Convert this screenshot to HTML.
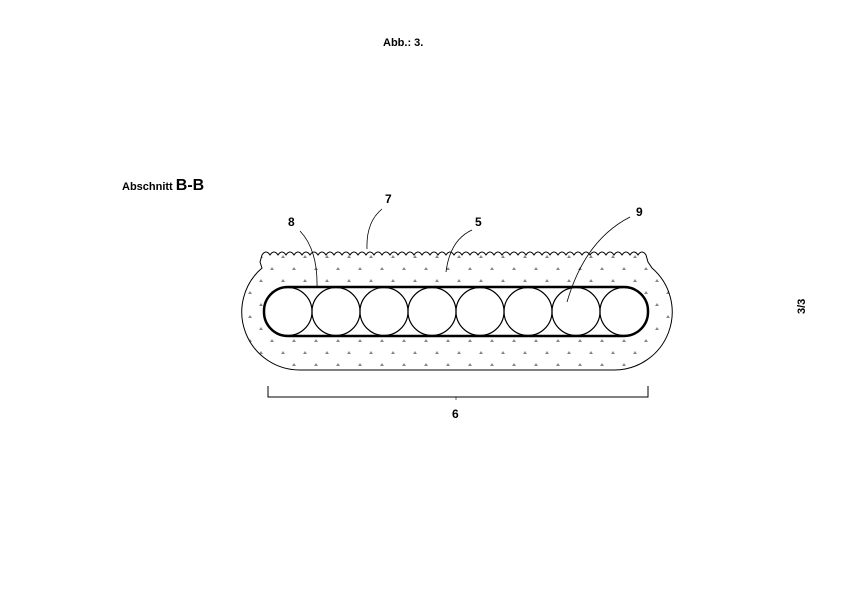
<!DOCTYPE html>
<html><head><meta charset="utf-8"><style>
html,body{margin:0;padding:0;background:#fff;width:842px;height:596px;overflow:hidden}
svg{display:block}
text{font-family:"Liberation Sans",sans-serif;font-weight:bold;fill:#000}
</style></head><body>
<svg width="842" height="596" viewBox="0 0 842 596" xmlns="http://www.w3.org/2000/svg">
<defs>
<pattern id="dots" x="2" y="0" width="22" height="24" patternUnits="userSpaceOnUse">
<path d="M4 6 l2 -3 l2 3z M15 18 l2 -3 l2 3z" fill="#888"/>
</pattern>
</defs>
<text x="383" y="46" font-size="11">Abb.: 3.</text>
<text x="122" y="190" font-size="11">Abschnitt <tspan font-size="16">B-B</tspan></text>
<text x="0" y="0" font-size="11" font-weight="normal" transform="translate(805,314) rotate(-90)">3/3</text>

<path d="M301 370 L614 370 A58 58 0 0 0 652 268 L648 262 L646 255
q-4 -6 -8 0 q-4 -6 -8 0 q-4 -6 -8 0 q-4 -6 -8 0 q-4 -6 -8 0 q-4 -6 -8 0 q-4 -6 -8 0 q-4 -6 -8 0 q-4 -6 -8 0 q-4 -6 -8 0
q-4 -6 -8 0 q-4 -6 -8 0 q-4 -6 -8 0 q-4 -6 -8 0 q-4 -6 -8 0 q-4 -6 -8 0 q-4 -6 -8 0 q-4 -6 -8 0 q-4 -6 -8 0 q-4 -6 -8 0
q-4 -6 -8 0 q-4 -6 -8 0 q-4 -6 -8 0 q-4 -6 -8 0 q-4 -6 -8 0 q-4 -6 -8 0 q-4 -6 -8 0 q-4 -6 -8 0 q-4 -6 -8 0 q-4 -6 -8 0
q-4 -6 -8 0 q-4 -6 -8 0 q-4 -6 -8 0 q-4 -6 -8 0 q-4 -6 -8 0 q-4 -6 -8 0 q-4 -6 -8 0 q-4 -6 -8 0 q-4 -6 -8 0 q-4 -6 -8 0
q-4 -6 -8 0 q-4 -6 -8 0 q-4 -6 -8 0 q-4 -6 -8 0 q-4 -6 -8 0 q-4 -6 -8 0 q-4 -6 -8 0 q-4 -6 -8 0
L260 262 L262 268 A58 58 0 0 0 301 370 Z" fill="url(#dots)" stroke="#000" stroke-width="1"/>

<rect x="264" y="287" width="384" height="49" rx="24" ry="24" fill="#fff" stroke="#000" stroke-width="2.5"/>
<g fill="none" stroke="#000" stroke-width="1.2">
<circle cx="288" cy="311.5" r="24"/><circle cx="336" cy="311.5" r="24"/>
<circle cx="384" cy="311.5" r="24"/><circle cx="432" cy="311.5" r="24"/>
<circle cx="480" cy="311.5" r="24"/><circle cx="528" cy="311.5" r="24"/>
<circle cx="576" cy="311.5" r="24"/><circle cx="624" cy="311.5" r="24"/>
</g>

<g fill="none" stroke="#000" stroke-width="0.8">
<path d="M300 231 Q318 250 317 288"/>
<path d="M382 209 Q366 222 367 249"/>
<path d="M472 230 Q450 240 446 272"/>
<path d="M630 217 Q585 240 567 302"/>
</g>
<text x="288" y="226" font-size="12">8</text>
<text x="385" y="203" font-size="12">7</text>
<text x="475" y="226" font-size="12">5</text>
<text x="636" y="216" font-size="12">9</text>

<path d="M268 386 V397 H648 V386" fill="none" stroke="#000" stroke-width="1"/>
<line x1="456" y1="397" x2="456" y2="400" stroke="#000" stroke-width="0.6"/>
<text x="452" y="418" font-size="12">6</text>
</svg>
</body></html>
